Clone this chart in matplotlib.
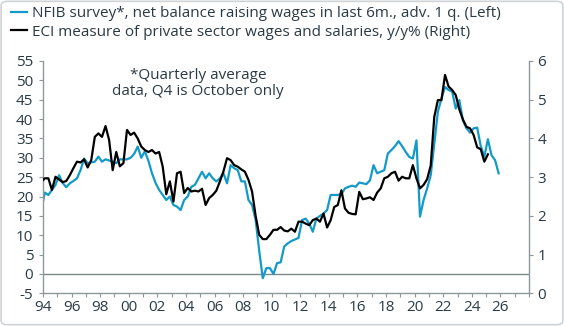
import numpy as np
import matplotlib
matplotlib.use('Agg')
import matplotlib.pyplot as plt
from matplotlib.patches import FancyBboxPatch

# quarterly data, first point Q4 1993, plotted at mid-quarter
start_year = 1993.875

# NFIB survey, net balance raising wages, advanced 1 quarter (left axis)
nfib = [16.5,
        21.0, 20.4, 21.7, 23.0,   # 1994
        25.5, 23.5, 22.4, 23.4,   # 1995
        24.0, 24.7, 26.8, 29.8,   # 1996
        28.6, 28.8, 29.0, 30.3,   # 1997
        29.0, 29.6, 29.3, 29.0,   # 1998
        28.6, 29.6, 29.6, 29.6,   # 1999
        30.0, 31.0, 32.9, 30.0,   # 2000
        31.7, 29.2, 26.0, 23.5,   # 2001
        21.7, 20.4, 19.1, 20.0,   # 2002
        17.8, 17.4, 16.5, 19.1,   # 2003
        20.0, 22.5, 23.0, 24.7,   # 2004
        26.4, 24.7, 26.0, 24.7,   # 2005
        23.9, 24.7, 26.0, 23.4,   # 2006
        28.1, 27.3, 26.8, 23.9,   # 2007
        23.9, 19.1, 17.8, 14.0,   # 2008
        6.0, -1.1, 1.5, 1.5,      # 2009
        0.0, 2.8, 3.0, 7.1,       # 2010
        7.9, 8.5, 8.9, 9.3,       # 2011
        13.9, 14.3, 13.0, 10.9,   # 2012
        14.3, 15.0, 15.6, 16.5,   # 2013
        20.4, 20.4, 20.4, 20.6,   # 2014
        22.1, 22.5, 22.8, 22.5,   # 2015
        23.6, 23.4, 23.2, 24.2,   # 2016
        28.1, 26.0, 26.4, 26.8,   # 2017
        31.1, 32.0, 33.0, 34.3,   # 2018
        33.0, 31.5, 30.2, 29.8,   # 2019
        34.5, 14.8, 19.1, 22.1,   # 2020
        25.5, 33.7, 41.9, 45.3,   # 2021
        48.3, 47.5, 47.1, 42.7,   # 2022
        44.9, 39.7, 37.6, 36.5,   # 2023
        37.6, 37.8, 33.0, 30.3,   # 2024
        34.8, 30.7, 29.4, 26.0]   # 2025

# ECI private sector wages and salaries, y/y % (right axis)
eci = [2.88,
       2.97, 2.97, 2.67, 3.01,   # 1994
       2.94, 2.87, 2.90, 3.05,   # 1995
       3.23, 3.40, 3.38, 3.46,   # 1996
       3.25, 3.44, 4.04, 4.13,   # 1997
       4.04, 4.32, 3.96, 3.18,   # 1998
       3.65, 3.28, 3.36, 4.22,   # 1999
       4.09, 4.15, 4.00, 3.79,   # 2000
       3.70, 3.65, 3.70, 3.61,   # 2001
       3.65, 3.27, 2.56, 2.89,   # 2002
       2.37, 3.10, 3.14, 2.59,   # 2003
       2.72, 2.63, 2.65, 2.63,   # 2004
       2.70, 2.28, 2.46, 2.54,   # 2005
       2.65, 2.89, 3.15, 3.49,   # 2006
       3.44, 3.31, 3.27, 3.20,   # 2007
       3.14, 2.93, 2.63, 2.00,   # 2008
       1.51, 1.40, 1.40, 1.51,   # 2009
       1.64, 1.64, 1.71, 1.62,   # 2010
       1.60, 1.67, 1.59, 1.85,   # 2011
       1.85, 1.80, 1.76, 1.89,   # 2012
       1.93, 1.85, 2.06, 1.70,   # 2013
       1.89, 2.23, 2.28, 2.66,   # 2014
       2.19, 2.08, 2.05, 2.04,   # 2015
       2.62, 2.43, 2.45, 2.48,   # 2016
       2.41, 2.60, 2.71, 2.97,   # 2017
       3.01, 3.10, 3.14, 2.91,   # 2018
       3.01, 2.97, 2.97, 3.31,   # 2019
       2.97, 2.71, 2.80, 2.95,   # 2020
       3.30, 4.56, 4.99, 4.99,   # 2021
       5.64, 5.34, 5.25, 5.12,   # 2022
       4.75, 4.49, 4.30, 4.26,   # 2023
       4.09, 3.77, 3.72, 3.40,   # 2024
       3.59]                     # 2025

nfib_label = 'NFIB survey*, net balance raising wages in last 6m., adv. 1 q. (Left)'
eci_label = 'ECI measure of private sector wages and salaries, y/y% (Right)'
note = '*Quarterly average\ndata, Q4 is October only'

x_nfib = start_year + 0.25 * np.arange(len(nfib))
x_eci = start_year + 0.25 * np.arange(len(eci))

blue = '#139ac8'
txt = '#2a3a44'
grey = '#8d979c'

plt.rcParams['font.family'] = ['Open Sans', 'DejaVu Sans']
plt.rcParams['axes.unicode_minus'] = False

fig = plt.figure(figsize=(5.64, 3.26), dpi=100)
ax = fig.add_axes([43/564, 1-293.3/326, 486/564, 232.3/326])
ax2 = ax.twinx()

ln1, = ax.plot(x_nfib, nfib, color=blue, lw=1.6, label=nfib_label)
ln2, = ax2.plot(x_eci, eci, color='black', lw=1.6, label=eci_label)
ax.axhline(0, color='#7c878c', lw=1, zorder=1)

ax.set_xlim(1994, 2028)
ax.set_ylim(-5, 55)
ax2.set_ylim(0, 6)

years = np.arange(1994, 2029)
ax.set_xticks(years)
ax.set_xticklabels([f'{y % 100:02d}' if (y % 2 == 0 and y <= 2026) else '' for y in years])
ax.set_yticks(np.arange(-5, 60, 5))
ax2.set_yticks(np.arange(0, 7))

for a in (ax, ax2):
    a.spines['top'].set_visible(False)
    for s in a.spines.values():
        s.set_color(grey)
        s.set_linewidth(1)
ax.spines['right'].set_visible(False)
ax2.spines['left'].set_visible(False)
ax2.spines['bottom'].set_visible(False)

ax.tick_params(axis='both', length=3, width=0.8, color=grey, labelcolor=txt, labelsize=11)
ax.tick_params(axis='x', pad=1.5)
ax.tick_params(axis='y', pad=4)
ax2.tick_params(axis='y', length=3, width=0.8, color=grey, labelcolor=txt, labelsize=11, pad=3)

fig.legend(handles=[ln1, ln2], loc='upper left', bbox_to_anchor=(0.004, 1.01),
           frameon=False, fontsize=11, handlelength=1.05, handletextpad=0.3,
           labelspacing=0.25, labelcolor=txt, borderaxespad=0.2)

fig.text(198/564, 1-83.5/326, note, ha='center', va='center', fontsize=11,
         color=txt, linespacing=1.1)

fig.patches.append(FancyBboxPatch((0.002, 0.004), 0.996, 0.992,
                                  boxstyle='round,pad=0,rounding_size=0.012',
                                  transform=fig.transFigure, fill=False,
                                  ec='#cfd3d6', lw=1.2))

fig.savefig('out.png', dpi=100)
